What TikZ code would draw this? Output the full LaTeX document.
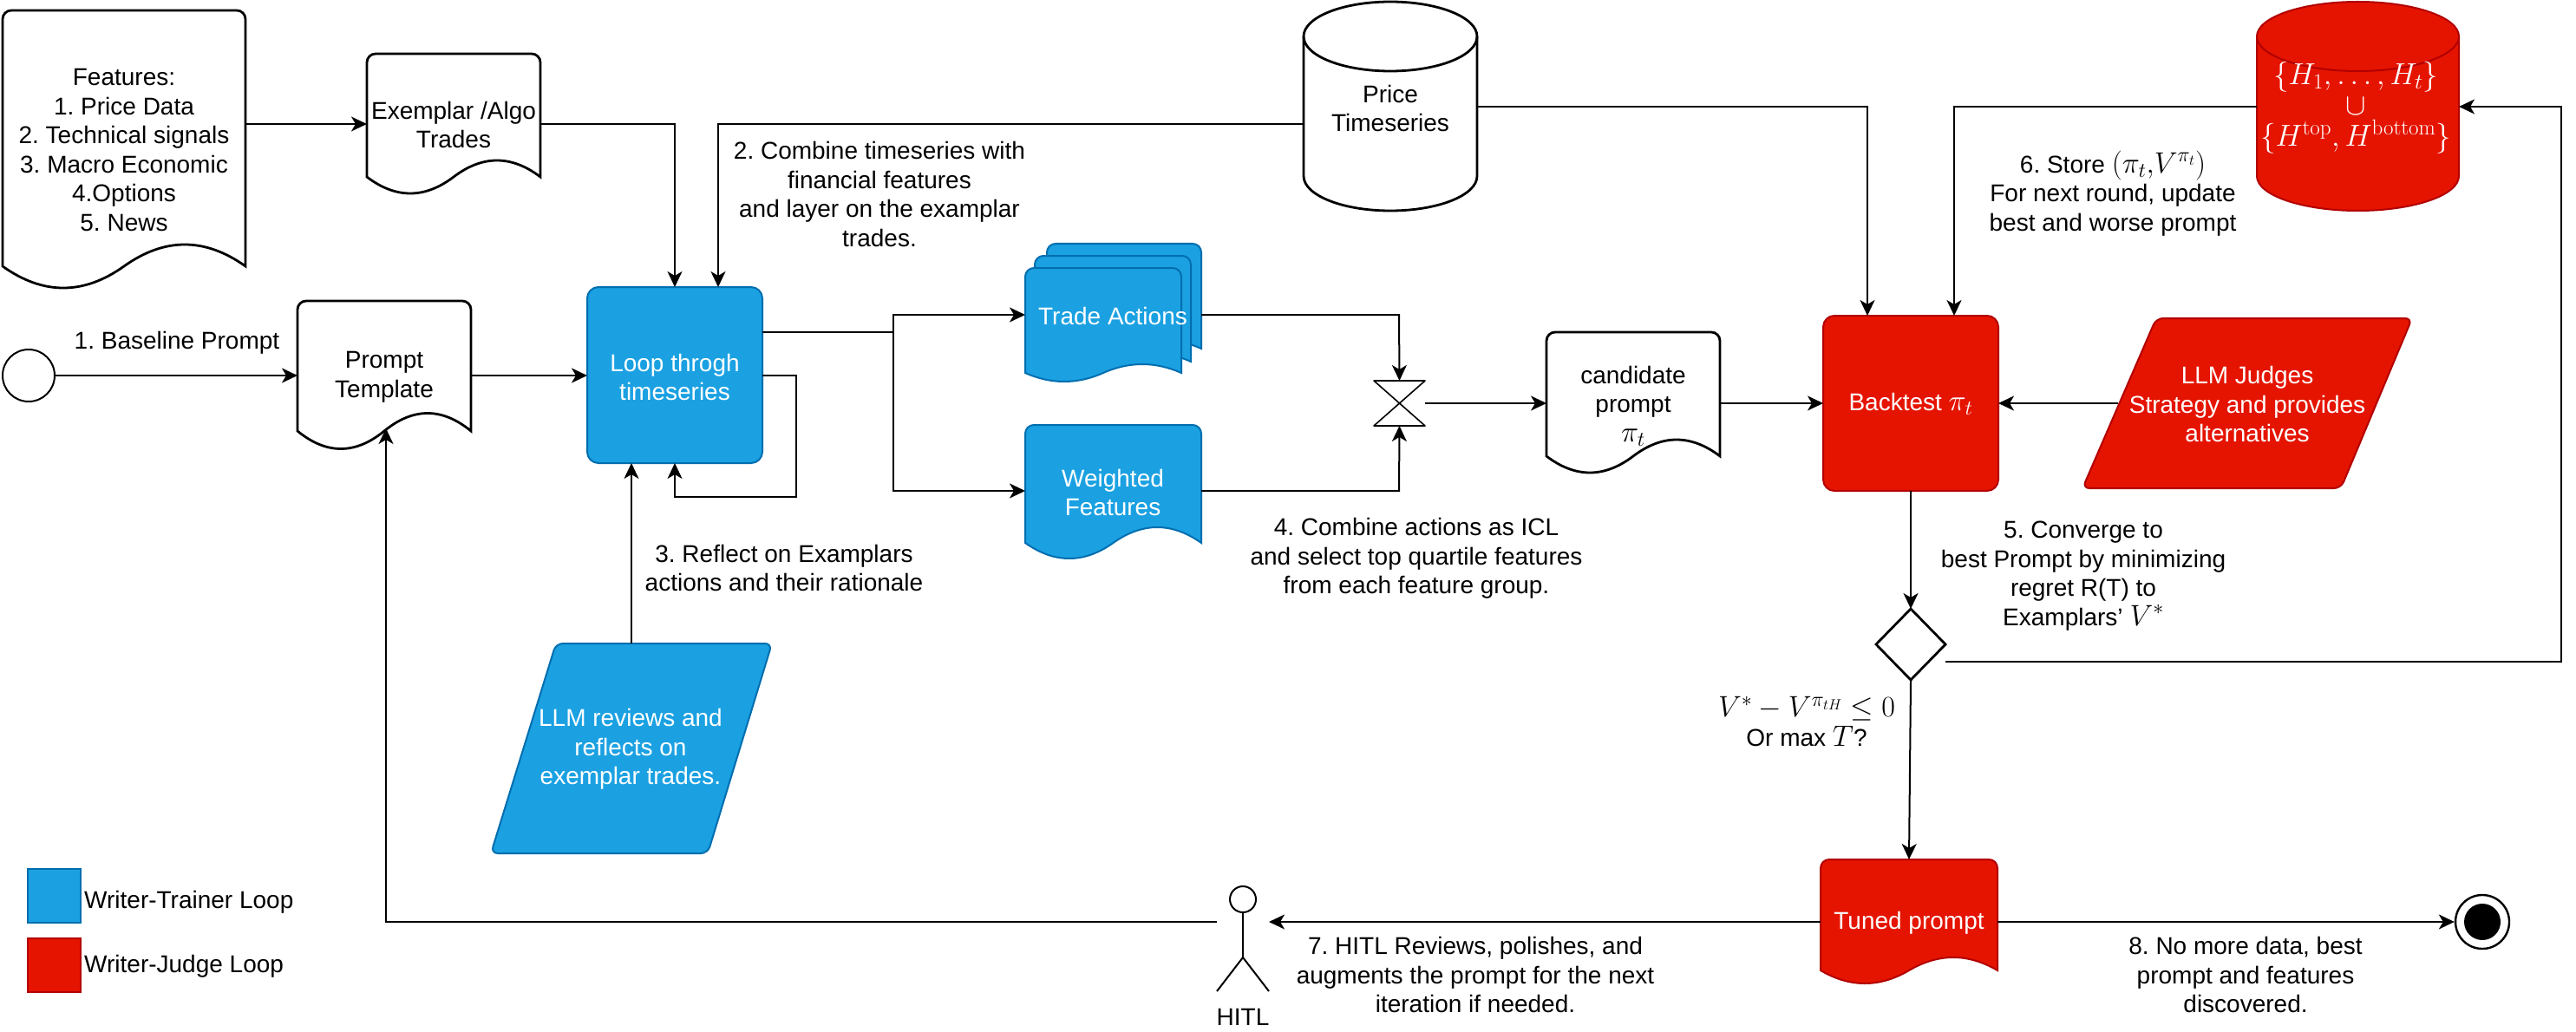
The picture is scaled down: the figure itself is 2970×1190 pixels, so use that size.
\RequirePackage{fix-cm}
\documentclass[tikz,border=0pt]{standalone}
\usepackage[no-math]{fontspec}
\setmainfont{Liberation Sans}
\DeclareMathSizes{28}{34}{24}{17}
\DeclareMathSizes{31}{35}{25}{18}
\usetikzlibrary{arrows.meta,fit}
\definecolor{wblue}{HTML}{1BA1E2}
\definecolor{wblueb}{HTML}{006EAF}
\definecolor{wred}{HTML}{E51400}
\definecolor{wredb}{HTML}{B20000}
\tikzset{
  x=1pt,y=-1pt,
  conn/.style={draw=black,line width=2pt,-{Stealth[length=18pt,width=17pt,inset=5pt]}},
  seg/.style={draw=black,line width=2pt},
  plain/.style={draw=black,fill=white,line width=2.8pt},
  bluef/.style={draw=wblueb,fill=wblue,line width=2pt},
  redf/.style={draw=wredb,fill=wred,line width=2pt},
  txt/.style={font=\fontsize{28}{33.5}\selectfont\frenchspacing,align=center,inner sep=0pt,text=black},
  wtxt/.style={txt,text=white},
  bigmath/.style={font=\fontsize{31}{35.5}\selectfont,align=center,inner sep=0pt,text=white},
  box/.style={inner sep=0pt,outer sep=0pt},
}
% doc shape: style, x1,y1,x2,ymid,amp
\newcommand{\docshape}[6]{%
  \pgfmathsetmacro\dW{(#4-#2)/6}%
  \pgfmathsetmacro\dM{(#2+#4)/2}%
  \pgfmathsetmacro\dA{4*#6/3}%
  \path[#1] [rounded corners=10pt] (#2,#5) -- (#2,#3) -- (#4,#3) [sharp corners] -- (#4,#5)
    .. controls ({#4-\dW},{#5-\dA}) and ({\dM+\dW},{#5-\dA}) .. (\dM,#5)
    .. controls ({\dM-\dW},{#5+\dA}) and ({#2+\dW},{#5+\dA}) .. (#2,#5) -- cycle;%
}
% cylinder: style, x1,ytop,x2,ybot,ry, edge colour
\newcommand{\cylshape}[7]{%
  \pgfmathsetmacro\cK{0.5523*(#4-#2)/2}%
  \pgfmathsetmacro\cL{0.5523*#6}%
  \pgfmathsetmacro\cM{(#2+#4)/2}%
  \path[#1] (#2,{#3+#6}) -- (#2,{#5-#6})
    .. controls (#2,{#5-#6+\cL}) and ({\cM-\cK},#5) .. (\cM,#5)
    .. controls ({\cM+\cK},#5) and (#4,{#5-#6+\cL}) .. (#4,{#5-#6})
    -- (#4,{#3+#6})
    .. controls (#4,{#3+#6-\cL}) and ({\cM+\cK},#3) .. (\cM,#3)
    .. controls ({\cM-\cK},#3) and (#2,{#3+#6-\cL}) .. (#2,{#3+#6}) -- cycle;%
  \path[#1,fill=none,draw=#7] (#2,{#3+#6})
    .. controls (#2,{#3+#6+\cL}) and ({\cM-\cK},{#3+2*#6}) .. (\cM,{#3+2*#6})
    .. controls ({\cM+\cK},{#3+2*#6}) and (#4,{#3+#6+\cL}) .. (#4,{#3+#6});%
}
\newcommand{\anchorbox}[5]{\node[box,fit={(#2,#3)(#4,#5)}] (#1) {};}
\begin{document}
\begin{tikzpicture}
\path[use as bounding box,fill=white] (0,0) rectangle (2970,1190);

% ---------- shapes
\docshape{plain}{3}{12}{283}{307}{25}      \anchorbox{feat}{3}{12}{283}{331}
\docshape{plain}{423}{62}{623}{204}{19}    \anchorbox{ex}{423}{62}{623}{224}
\docshape{plain}{343}{347}{543}{497}{20.5} \anchorbox{pt}{343}{347}{543}{519}
\docshape{plain}{1783}{383}{1983}{526}{19} \anchorbox{cand}{1783}{383}{1983}{547}
\cylshape{plain}{1503}{2}{1703}{243}{40}{black} \anchorbox{price}{1503}{2}{1703}{243}
\cylshape{redf}{2602}{2}{2835}{243}{40}{wredb}  \anchorbox{store}{2602}{2}{2835}{243}

\path[bluef,rounded corners=13pt] (677,331) rectangle (879,534); \anchorbox{loop}{677}{331}{879}{534}
\path[redf,rounded corners=13pt] (2102,364) rectangle (2304,566); \anchorbox{back}{2102}{364}{2304}{566}

\docshape{bluef}{1207}{281}{1385}{402}{10}
\docshape{bluef}{1193}{295}{1373}{417}{10}
\docshape{bluef}{1182}{309}{1362}{430}{10}
\anchorbox{trade}{1182}{281}{1385}{445}
\docshape{bluef}{1182}{490}{1385}{626}{18} \anchorbox{wf}{1182}{490}{1385}{642}
\docshape{redf}{2099}{991}{2303}{1119}{15} \anchorbox{tuned}{2099}{991}{2303}{1135}

\path[bluef,rounded corners=8pt] (641,742) -- (890,742) -- (816,984) -- (566,984) -- cycle;
\anchorbox{rev}{566}{742}{890}{984}
\path[redf,rounded corners=8pt] (2486,367) -- (2781,367) -- (2699,563) -- (2401,563) -- cycle;
\anchorbox{judge}{2401}{367}{2781}{563}

\path[draw=black,fill=white,line width=1.6pt,line join=round] (1584,439) -- (1643,439) -- (1584,491) -- (1643,491) -- cycle;
\anchorbox{col}{1584}{439}{1643}{491}
\path[plain] (2203,702) -- (2243,743) -- (2203,784) -- (2163,743) -- cycle;
\anchorbox{dia}{2163}{702}{2243}{784}

\node[circle,draw=black,fill=white,line width=2pt,minimum size=60pt,inner sep=0pt] (start) at (33,433) {};
\node[circle,draw=black,fill=white,line width=2.4pt,minimum size=62pt,inner sep=0pt] (endc) at (2862,1063) {};
\node[circle,fill=black,minimum size=42pt,inner sep=0pt] (endi) at (2862,1063) {};

% actor
\node[circle,draw=black,fill=white,line width=2pt,minimum size=30pt,inner sep=0pt] (head) at (1433,1037) {};
\anchorbox{hitl}{1403}{1022}{1463}{1143}
\coordinate (hip) at (1433,1104);
\draw[seg] (head.south) -- (hip);
\draw[seg] (hip) -- (hitl.south west);
\draw[seg] (hip) -- (hitl.south east);

% legend
\path[bluef] (32,1002) rectangle (93,1064); \anchorbox{lgb}{32}{1002}{93}{1064}
\path[redf] (32,1082) rectangle (93,1144);  \anchorbox{lgr}{32}{1082}{93}{1144}

% ---------- connectors
\coordinate (c2) at (828,143);
\coordinate (c3) at (2153,123);
\coordinate (c4) at (2253,123);
\coordinate (split) at (1030,383);
\coordinate (sl) at (918,573);
\coordinate (ptin) at (445,494);
\coordinate (jw) at (2442,465);
\coordinate (dout) at (2243,763);
\coordinate (rr) at (2953,123);
\coordinate (tcol) at (1613,363);
\coordinate (bcol) at (1613,566);

\draw[conn] (start) -- (start -| pt.west);
\draw[conn] (pt.east |- start) -- (loop.west |- start);
\draw[conn] (feat.east |- ex.west) -- (ex.west);
\draw[conn] (ex.east) -| (loop.north);
\draw[conn] (price.west |- c2) -- (c2) -- (c2 |- loop.north);
\draw[conn] (price.east |- c3) -- (c3) -- (c3 |- back.north);
\draw[conn] (store.west |- c4) -- (c4) -- (c4 |- back.north);
\draw[seg] (loop.east |- split) -- (split);
\draw[conn] (split) |- (trade.west);
\draw[conn] (split) |- (wf.west);
\draw[conn] (loop.east) -| (sl) -| (loop.south);
\draw[conn] (rev.north) -- (rev.north |- loop.south);
\draw[conn] (trade.east) -- (tcol) -- (col.north);
\draw[conn] (wf.east) -- (bcol) -- (col.south);
\draw[conn] (col.east) -- (cand.west);
\draw[conn] (cand.east) -- (back.west);
\draw[conn] (jw) -- (back.east);
\draw[conn] (back.south) -- (dia.north);
\draw[conn] (dia.south) -- (tuned.north);
\draw[conn] (dout) -| (rr) -- (store.east |- rr);
\draw[conn] (tuned.west) -- (hitl.east |- tuned.west);
\draw[conn] (hitl.west |- tuned.west) -| (ptin);
\draw[conn] (tuned.east) -- (endc.west);

% ---------- texts
\node[txt] (t1) at (143,173) {Features:\\1. Price Data\\2. Technical signals\\3. Macro Economic\\4.Options\\5. News};
\node[txt] (t2) at (523,144) {Exemplar /Algo\\Trades};
\node[txt] (t3) at (204,395) {1. Baseline Prompt};
\node[txt] (t4) at (443,435) {Prompt\\Template};
\node[wtxt] (t5) at (778,435) {Loop throgh\\timeseries};
\node[txt] (t6) at (1014,224) {2. Combine timeseries with\\financial features\\and layer on the examplar\\trades.};
\node[txt] (t7) at (1603,125) {Price\\Timeseries};
\node[wtxt] (t8) at (1283,364) {Trade Actions};
\node[wtxt] (t9) at (1283,568) {Weighted\\Features};
\node[txt] (t10) at (1883,468) {candidate\\prompt\\$\pi_t$};
\node[txt] (t11) at (904,655) {3. Reflect on Examplars\\actions and their rationale};
\node[wtxt] (t12) at (727,864) {LLM reviews and\\reflects on\\exemplar trades.};
\node[txt] (t13) at (1633,644) {4. Combine actions as ICL\\and select top quartile features\\from each feature group.};
\node[wtxt] (t14) at (2203,466) {Backtest $\pi_t$};
\node[wtxt] (t15) at (2591,466) {LLM Judges\\Strategy and provides\\alternatives};
\node[txt] (t16) at (2436,223) {6. Store $(\pi_t{,}V^{\pi_t})$\\For next round, update\\best and worse prompt};
\node[bigmath] (t17) at (2716,124) {$\{H_1,\ldots,H_t\}$\\$\cup$\\$\{H^{\mathrm{top}},H^{\mathrm{bottom}}\}$};
\node[txt] (t18) at (2402,664) {5. Converge to\\best Prompt by minimizing\\regret R(T) to\\Examplars' $V^*$};
\node[txt] (t19) at (2083,832) {$V^*-V^{\pi_{tH}}\leq 0$\\Or max $T$?};
\node[wtxt] (t20) at (2201,1064) {Tuned prompt};
\node[txt] (t21) at (1701,1124) {7. HITL Reviews, polishes, and\\augments the prompt for the next\\iteration if needed.};
\node[txt] (t22) at (2589,1124) {8. No more data, best\\prompt and features\\discovered.};
\node[txt] (t23) at (1433,1173) {HITL};
\node[txt,anchor=west] (t24) at (97,1040) {Writer-Trainer Loop};
\node[txt,anchor=west] (t25) at (97,1114) {Writer-Judge Loop};
\end{tikzpicture}
\end{document}
